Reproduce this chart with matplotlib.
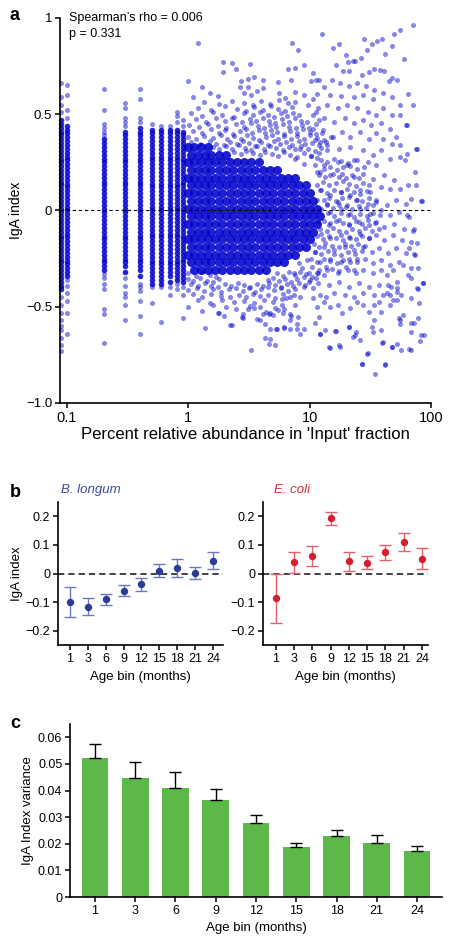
import matplotlib
matplotlib.use("Agg")
import matplotlib.pyplot as plt
from matplotlib.ticker import NullLocator, FixedLocator

plt.rcParams['font.family'] = ['Liberation Sans', 'DejaVu Sans']
plt.rcParams['axes.unicode_minus'] = True

# ---------------- Panel a data ----------------
# discrete low-abundance columns (percent) with their y values (IgA index, hundredths)
col_x = [0.09, 0.1, 0.2, 0.3, 0.4, 0.5, 0.6, 0.7, 0.8, 0.9]
col_dense = [
    "47 45 43 41 39 37 35 33 31 29 27 25 23 21 19 17 15 13 11 9 7 5 3 1 -1 -3 -5 -7 -9 -11 -13 -15 -17 -19 -21 -23 -25 -27 -29 -31 -33 -35 -37 -39 -41",
    "44 42 40 38 36 34 32 30 28 26 24 22 20 18 16 14 12 10 8 6 4 2 0 -2 -4 -6 -8 -10 -12 -14 -16 -18 -20 -22 -24 -26 -28 -30 -32 -34",
    "37 35 33 31 29 27 25 23 21 19 17 15 13 11 9 7 5 3 1 -1 -3 -5 -7 -9 -11 -13 -15 -17 -19 -21 -23 -25 -27 -29 -31",
    "41 39 37 35 33 31 29 27 25 23 21 19 17 15 13 11 9 7 5 3 1 -1 -3 -5 -7 -9 -11 -13 -15 -17 -19 -21 -23 -25 -27 -29 -32",
    "43 41 39 37 35 33 31 29 27 25 23 21 19 17 15 13 11 9 7 5 3 1 -1 -3 -5 -7 -9 -11 -13 -15 -17 -19 -21 -23 -25 -27 -29 -31 -34",
    "42 40 38 36 34 32 30 28 26 24 22 20 18 16 14 12 10 8 6 4 2 0 -2 -4 -6 -8 -10 -12 -14 -16 -18 -20 -22 -24 -26 -28 -30 -32 -34 -36 -38",
    "42 40 38 36 34 32 30 28 26 24 22 20 18 16 14 12 10 8 6 4 2 0 -2 -4 -6 -8 -10 -12 -14 -16 -18 -20 -22 -24 -26 -28 -30 -32 -34 -36 -38",
    "42 40 38 36 34 32 30 28 26 24 22 20 18 16 14 12 10 8 6 4 2 0 -2 -4 -6 -8 -10 -12 -14 -16 -18 -20 -22 -24 -26 -28 -30 -32 -34 -37",
    "42 40 38 36 34 32 30 28 26 24 22 20 18 16 14 12 10 8 6 4 2 0 -2 -4 -6 -8 -10 -12 -14 -16 -18 -20 -22 -24 -26 -28 -30 -32 -34 -36",
    "41 39 37 35 33 31 29 27 25 23 21 19 17 15 13 11 9 7 5 3 1 -1 -3 -5 -7 -9 -11 -13 -15 -17 -19 -21 -23 -25 -27 -29 -31 -33 -35 -37",
]
col_sparse = [
    "66 59 55 51 -45 -49 -53 -57 -60 -62 -66 -70 -73",
    "65 60 52 48 -36 -39 -43 -47 -53 -64",
    "63 52 45 43 41 39 -33 -35 -38 -41 -51 -54 -69",
    "56 53 48 46 44 -35 -39 -43 -45 -49 -57",
    "63 58 48 46 -38 -40 -42 -47 -55 -64",
    "45 -40 -48",
    "44 -40 -58",
    "44 -40 -44",
    "51 49 46 -38 -41",
    "47 44 -40 -44 -56",
]

# dense core of the cloud (abundance >= 1 %), one row per IgA level
core_rows = [
    (0.33, [1.0, 1.12, 1.27, 1.45]),
    (0.29, [1.05, 1.2, 1.36, 1.55, 1.78, 2.05]),
    (0.25, [1.0, 1.12, 1.27, 1.45, 1.65, 1.9, 2.2, 2.5, 2.9, 3.3, 3.8]),
    (0.21, [1.05, 1.2, 1.36, 1.55, 1.78, 2.05, 2.35, 2.7, 3.1, 3.55, 4.1, 4.7, 5.4]),
    (0.17, [1.0, 1.12, 1.27, 1.45, 1.65, 1.9, 2.2, 2.5, 2.9, 3.3, 3.8, 4.4, 5.0, 5.8, 6.6, 7.6]),
    (0.13, [1.05, 1.2, 1.36, 1.55, 1.78, 2.05, 2.35, 2.7, 3.1, 3.55, 4.1, 4.7, 5.4, 6.2, 7.1, 8.2, 9.4]),
    (0.09, [1.0, 1.12, 1.27, 1.45, 1.65, 1.9, 2.2, 2.5, 2.9, 3.3, 3.8, 4.4, 5.0, 5.8, 6.6, 7.6, 8.8, 10.0]),
    (0.05, [1.05, 1.2, 1.36, 1.55, 1.78, 2.05, 2.35, 2.7, 3.1, 3.55, 4.1, 4.7, 5.4, 6.2, 7.1, 8.2, 9.4, 10.7]),
    (0.01, [1.0, 1.12, 1.27, 1.45, 1.65, 1.9, 2.2, 2.5, 2.9, 3.3, 3.8, 4.4, 5.0, 5.8, 6.6, 7.6, 8.8, 10.0, 11.5]),
    (-0.03, [1.05, 1.2, 1.36, 1.55, 1.78, 2.05, 2.35, 2.7, 3.1, 3.55, 4.1, 4.7, 5.4, 6.2, 7.1, 8.2, 9.4, 10.7, 12.2]),
    (-0.07, [1.0, 1.12, 1.27, 1.45, 1.65, 1.9, 2.2, 2.5, 2.9, 3.3, 3.8, 4.4, 5.0, 5.8, 6.6, 7.6, 8.8, 10.0, 11.5]),
    (-0.11, [1.05, 1.2, 1.36, 1.55, 1.78, 2.05, 2.35, 2.7, 3.1, 3.55, 4.1, 4.7, 5.4, 6.2, 7.1, 8.2, 9.4, 10.7]),
    (-0.15, [1.0, 1.12, 1.27, 1.45, 1.65, 1.9, 2.2, 2.5, 2.9, 3.3, 3.8, 4.4, 5.0, 5.8, 6.6, 7.6, 8.8, 10.0]),
    (-0.19, [1.05, 1.2, 1.36, 1.55, 1.78, 2.05, 2.35, 2.7, 3.1, 3.55, 4.1, 4.7, 5.4, 6.2, 7.1, 8.2, 9.4]),
    (-0.23, [1.0, 1.12, 1.27, 1.45, 1.65, 1.9, 2.2, 2.5, 2.9, 3.3, 3.8, 4.4, 5.0, 5.8, 6.6, 7.6]),
    (-0.27, [1.05, 1.2, 1.36, 1.55, 1.78, 2.05, 2.35, 2.7, 3.1, 3.55, 4.1, 4.7, 5.4, 6.2]),
    (-0.31, [1.12, 1.27, 1.45, 1.65, 1.9, 2.2, 2.5, 2.9, 3.3, 3.8, 4.4]),
]

# medium-density halo above the core, "abundance:IgA" pairs
halo_upper = """
2.4:0.305 2.7:0.292 3.0:0.31 3.4:0.298 3.9:0.288 4.3:0.306 4.9:0.295 5.5:0.284 6.1:0.302 6.9:0.29 7.8:0.279 8.9:0.297 10.2:0.283 11.6:0.272
1.6:0.331 1.8:0.318 2.05:0.336 2.3:0.322 2.6:0.339 2.95:0.326 3.3:0.314 3.7:0.333 4.2:0.319 4.7:0.336 5.3:0.323 6.0:0.312 6.7:0.33 7.5:0.317 8.5:0.334 9.6:0.32 11:0.309 12.5:0.327 14:0.314
1.05:0.356 1.25:0.343 1.5:0.361 1.7:0.347 1.95:0.338 2.2:0.357 2.5:0.344 2.8:0.362 3.15:0.349 3.55:0.337 4.0:0.354 4.5:0.342 5.1:0.36 5.7:0.346 6.4:0.355 7.2:0.341 8.1:0.359 9.2:0.345 10.5:0.353 12:0.34 13.6:0.358
1.0:0.384 1.15:0.371 1.35:0.389 1.6:0.376 1.85:0.392 2.1:0.369 2.4:0.386 2.7:0.373 3.05:0.394 3.4:0.378 3.85:0.366 4.35:0.383 4.9:0.391 5.5:0.372 6.2:0.387 7.0:0.369 7.9:0.385 8.9:0.374 10.1:0.39 11.4:0.376 13:0.368 15:0.384
1.1:0.414 1.3:0.402 1.55:0.421 1.8:0.405 2.0:0.418 2.35:0.399 2.65:0.412 3.0:0.424 3.35:0.404 3.8:0.417 4.3:0.401 4.8:0.419 5.4:0.407 6.1:0.396 6.9:0.415 7.8:0.403 8.8:0.421 10:0.408 11.3:0.398 12.8:0.416
1.02:0.446 1.22:0.432 1.45:0.451 1.75:0.437 2.05:0.428 2.45:0.447 2.9:0.434 3.3:0.452 3.75:0.438 4.2:0.427 4.75:0.445 5.3:0.433 6.0:0.449 6.8:0.436 7.7:0.426 8.7:0.444 9.8:0.431 11.2:0.447
1.15:0.474 1.4:0.461 1.7:0.479 2.0:0.465 2.3:0.482 2.75:0.458 3.2:0.476 3.6:0.463 4.1:0.481 4.6:0.467 5.2:0.456 5.9:0.474 6.7:0.462 7.5:0.479 8.5:0.466 9.5:0.458
1.05:0.506 1.3:0.493 1.6:0.511 1.9:0.497 2.4:0.488 2.85:0.507 3.4:0.494 3.9:0.512 4.5:0.498 5.1:0.487 5.8:0.505 6.5:0.492 7.3:0.509 8.2:0.496
1.2:0.534 1.55:0.522 2.0:0.541 2.5:0.526 3.0:0.518 3.5:0.537 4.1:0.524 4.8:0.542 5.5:0.528 6.3:0.519 7.1:0.536
1.35:0.566 1.8:0.553 2.3:0.571 2.9:0.557 3.4:0.548 4.0:0.567 4.7:0.554 5.6:0.572 6.6:0.559
"""

# medium-density halo below the core
halo_lower = """
1.0:-0.326 1.15:-0.338 1.3:-0.321 1.5:-0.334 1.7:-0.343 5.4:-0.327 6.0:-0.339 6.7:-0.322 7.5:-0.335 8.4:-0.318 9.4:-0.331 10.5:-0.344 11.8:-0.325 13.2:-0.337
1.0:-0.356 1.1:-0.368 1.25:-0.352 1.42:-0.364 1.6:-0.371 1.8:-0.355 4.5:-0.362 5.0:-0.35 5.6:-0.366 6.3:-0.354 7.0:-0.369 7.9:-0.357 8.9:-0.348 10:-0.363 11.2:-0.352
1.05:-0.382 1.2:-0.394 1.38:-0.378 1.55:-0.39 1.75:-0.397 2.0:-0.381 2.25:-0.392 2.55:-0.376 2.9:-0.388 3.25:-0.399 3.65:-0.383 4.1:-0.391 4.6:-0.377 5.2:-0.389 5.8:-0.396 6.5:-0.38 7.3:-0.392 8.2:-0.379 9.2:-0.387
1.0:-0.414 1.18:-0.402 1.35:-0.419 1.6:-0.406 1.85:-0.423 2.15:-0.41 2.45:-0.401 2.8:-0.417 3.15:-0.405 3.55:-0.421 4.0:-0.408 4.5:-0.398 5.1:-0.415 5.8:-0.404 6.6:-0.42 7.5:-0.409
1.1:-0.436 1.3:-0.448 1.55:-0.432 1.85:-0.445 2.2:-0.451 2.6:-0.437 3.0:-0.449 3.4:-0.433 3.9:-0.446 4.5:-0.438 5.2:-0.452 6.0:-0.435 6.9:-0.447
1.2:-0.466 1.5:-0.478 1.9:-0.463 2.4:-0.476 2.9:-0.468 3.5:-0.481 4.2:-0.465 5.0:-0.474 5.9:-0.462
"""

# medium-density fan between 10 % and 40 %
fan_pts = """
12.5:0.264 14:0.251 16:0.268 18:0.255 20.5:0.247 23:0.262
13:0.214 14.8:0.227 16.8:0.212 19:0.225 21.5:0.231 24.5:0.216 28:0.228
12:0.186 13.5:0.173 15.5:0.189 17.5:0.176 19.8:0.168 22.5:0.184 25.5:0.171
11.5:0.134 12.8:0.147 14.5:0.131 16.5:0.144 18.7:0.152 21:0.137 24:0.128 27.5:0.145 31:0.133
12.2:0.104 13.8:0.091 15.8:0.108 18:0.095 20.3:0.112 23:0.098 26:0.087 29.5:0.103
13:0.053 14.5:0.066 16.4:0.051 18.6:0.064 21:0.071 24:0.056 27:0.048 31:0.063 35:0.054
13.8:0.026 15.5:0.013 17.5:0.029 19.8:0.016 22.5:0.008 25.5:0.024 29:0.011 33:0.027
14.2:-0.014 16:-0.027 18:-0.011 20.5:-0.024 23:-0.032 26:-0.016 29.5:-0.028 33.5:-0.013 38:-0.025
13.2:-0.054 14.8:-0.067 16.5:-0.052 18.8:-0.064 21.2:-0.071 24:-0.055 27:-0.068 30.5:-0.051 34.5:-0.063
12.2:-0.094 13.8:-0.107 15.5:-0.091 17.5:-0.104 19.8:-0.112 22.3:-0.096 25.3:-0.108 28.5:-0.093 32.5:-0.105 37:-0.097
11.5:-0.134 12.9:-0.147 14.5:-0.132 16.5:-0.144 18.7:-0.152 21:-0.136 24:-0.148 27:-0.131 31:-0.143
10.8:-0.174 12:-0.188 13.5:-0.171 15.3:-0.185 17.3:-0.192 19.5:-0.176 22:-0.187 25:-0.172 28.5:-0.184
11:-0.214 12.5:-0.227 14.2:-0.212 16:-0.225 18:-0.232 20.5:-0.216 23.5:-0.228 27:-0.211
10.2:-0.254 11.5:-0.267 13:-0.251 14.8:-0.264 16.8:-0.272 19:-0.256 21.5:-0.268 24.5:-0.253
10.5:-0.294 12:-0.307 13.6:-0.291 15.4:-0.304 17.5:-0.312 20:-0.296 23:-0.308
"""

# individual scattered points
upper_pts = [
    (1.2, 0.87), (12.6, 0.915), (70.5, 0.966), (56, 0.937), (50, 0.915), (28, 0.893), (32.4, 0.867),
    (35.6, 0.88), (39.5, 0.893), (48, 0.855), (7.2, 0.87), (8.0, 0.834), (15.7, 0.846), (17.3, 0.867),
    (29.9, 0.833), (41.8, 0.815), (60, 0.785), (19.8, 0.81), (20.8, 0.772), (22.6, 0.777), (23.5, 0.777),
    (26.5, 0.79), (1.92, 0.77), (2.27, 0.768), (1.92, 0.717), (2.45, 0.735), (3.2, 0.76), (6.6, 0.735),
    (7.6, 0.742), (9.0, 0.755), (10.6, 0.712), (11.9, 0.68), (16.5, 0.755), (18.8, 0.724), (21.2, 0.724),
    (27, 0.703), (31, 0.717), (34, 0.735), (38, 0.729), (41, 0.726), (52, 0.677), (48, 0.686), (45, 0.672),
    (65, 0.604), (70.5, 0.546), (56, 0.546), (47.5, 0.59), (40, 0.612), (34, 0.628), (29, 0.646),
    (24.7, 0.663), (21.2, 0.646), (17.8, 0.663), (15.3, 0.677), (13.2, 0.642), (11.5, 0.607), (14.6, 0.602),
    (18, 0.595), (23, 0.59), (27.5, 0.6), (33.5, 0.58),
    (1.0, 0.672), (1.3, 0.64), (1.5, 0.61), (2.7, 0.672), (3.1, 0.685), (3.5, 0.693), (2.65, 0.64),
    (3.1, 0.64), (2.85, 0.61), (3.3, 0.6), (4.1, 0.68), (5.5, 0.665), (10.3, 0.672), (11.3, 0.68),
    (7.0, 0.68), (3.7, 0.62), (4.1, 0.636), (5.6, 0.61), (7.6, 0.616), (9.0, 0.6), (10.6, 0.58),
    (1.1, 0.59), (1.77, 0.595), (6.3, 0.586), (7.6, 0.565), (9.7, 0.547), (11.3, 0.512),
    (12, 0.47), (10.6, 0.425), (12.2, 0.356), (8.4, 0.32), (10.3, 0.285), (11.9, 0.3), (7.6, 0.27),
    (8.9, 0.244), (11, 0.235), (12.2, 0.2),
]
right_pts = [
    (56, 0.495), (47.5, 0.495), (64, 0.443), (40, 0.53), (35, 0.495), (30, 0.512), (24.7, 0.53),
    (20.4, 0.546), (17, 0.53), (14, 0.546), (11.8, 0.53), (10.6, 0.495), (13, 0.478), (16, 0.46),
    (19.5, 0.478), (23, 0.452), (27.5, 0.47), (32, 0.443), (38.5, 0.452), (46, 0.425), (51, 0.382),
    (47.5, 0.348), (55, 0.339), (64, 0.295), (75, 0.322), (40.5, 0.373), (35, 0.4), (30.8, 0.373),
    (26.2, 0.408), (21.5, 0.382), (18.3, 0.408), (15.6, 0.382), (12.6, 0.4), (11, 0.365), (14, 0.339),
    (17.5, 0.322), (21.5, 0.33), (27.5, 0.313), (33.5, 0.287), (38.5, 0.313), (46, 0.27), (55, 0.278),
    (35, 0.235), (30.5, 0.252), (24.7, 0.26), (20.4, 0.235), (17, 0.252), (13, 0.235), (11.5, 0.2),
    (14.8, 0.183), (18.3, 0.192), (23, 0.174), (27.5, 0.192), (33.5, 0.166), (41, 0.183), (50, 0.157),
    (56, 0.114), (46, 0.114), (38.5, 0.122), (31.5, 0.097), (26.2, 0.105), (21.5, 0.079), (18, 0.097),
    (14.8, 0.079), (12.4, 0.105), (75, 0.131), (83, 0.048), (62.5, 0.443), (76, 0.322), (61.5, 0.261),
    (74, 0.2), (65, 0.132), (69, 0.062), (62, 0.036), (51, 0.053), (43, 0.027), (35, 0.045), (30, 0.036),
    (24.7, 0.053), (20.4, 0.027), (17, 0.045), (14, 0.036), (11.5, 0.053), (66, -0.033), (54, -0.007),
    (46, -0.024), (38.5, 0.002), (31.5, -0.016), (26.2, 0.01), (21.5, -0.016), (18, 0.01), (14.8, -0.007),
    (12.4, 0.01), (60, -0.094), (50, -0.068), (41, -0.085), (35, -0.059), (31, -0.076), (25.5, -0.059),
    (21, -0.076), (17.5, -0.05), (14.3, -0.076), (11.7, -0.059), (58, -0.154), (48.5, -0.128),
    (41, -0.154), (35, -0.128), (31, -0.145), (26.2, -0.12), (21.5, -0.145), (18, -0.128), (14.8, -0.145),
    (12.4, -0.12), (62, -0.223), (51, -0.197), (44, -0.223), (37.5, -0.197), (32.5, -0.215),
    (27.5, -0.189), (23, -0.206), (19.5, -0.189), (16, -0.206), (13, -0.189), (11, -0.215), (54, -0.267),
    (46, -0.284), (39, -0.258), (33.5, -0.275), (28.5, -0.25), (24.7, -0.267), (21, -0.25), (18, -0.267),
    (14.8, -0.25), (12.2, -0.267), (48.5, -0.31), (43, -0.336), (38.5, -0.31), (33, -0.327), (27.5, -0.31),
    (24, -0.327), (20.5, -0.31), (17, -0.327), (14, -0.31), (11.4, -0.327), (68, -0.35), (47, -0.396),
    (52, -0.422), (52, -0.37), (44, -0.388), (37, -0.388), (31, -0.396), (25.5, -0.379), (21, -0.396),
    (17.5, -0.37), (14.3, -0.388), (11.7, -0.379), (10.6, -0.405), (10.6, -0.457), (12.2, -0.44),
    (13.7, -0.448), (16, -0.43), (19.5, -0.44), (23, -0.448), (27.5, -0.43), (34, -0.44), (43, -0.43),
    (37.5, -0.474), (46, -0.492), (52, -0.466), (46, -0.44), (40.5, -0.44), (34, -0.492), (31, -0.526),
    (27.3, -0.492), (24.7, -0.474), (21.5, -0.509), (18.3, -0.535), (17, -0.492), (14.8, -0.5),
    (13, -0.474), (11.4, -0.5), (12, -0.552), (39, -0.526), (33.6, -0.57), (32.5, -0.604),
]
outlier_pts = [
    (63, -0.024), (72, -0.094), (68, -0.163), (74, -0.232), (59, -0.284), (65, -0.336), (76, -0.405),
    (57, -0.44), (68, -0.457), (52, -0.405), (49, -0.466), (86, -0.379), (78.5, -0.561), (83, -0.648),
    (81, -0.679), (72, -0.587), (68, -0.63), (56, -0.57), (59, -0.544), (68, -0.726), (57, -0.726),
    (47.3, -0.708), (40.5, -0.682), (42, -0.803), (34.5, -0.847), (26.8, -0.8), (29.5, -0.743),
    (26, -0.674), (22.9, -0.656), (20.9, -0.604), (33.5, -0.63), (39, -0.622), (52, -0.691),
    (14.3, -0.708), (17.3, -0.7), (16.2, -0.625), (13.5, -0.622), (12.2, -0.639), (11.1, -0.587),
    (8.9, -0.613), (7.8, -0.616), (6.9, -0.613), (6.1, -0.609), (5.4, -0.613), (4.7, -0.665),
    (5.2, -0.7), (3.3, -0.726), (3.9, -0.57), (5.0, -0.544), (6.0, -0.53), (2.2, -0.596), (1.38, -0.608),
    (1.78, -0.535), (2.77, -0.552), (85, 0.048), (71, -0.106), (76, -0.168), (65.5, -0.194),
    (73, -0.228), (78, -0.3), (69, -0.3), (85.5, -0.379), (78, -0.409), (80, -0.483), (69, -0.582),
    (87, -0.648), (55, -0.592), (54.5, -0.561), (66, -0.722), (48, -0.708), (39.5, -0.686),
    (41.5, -0.8), (30, -0.738), (27, -0.798), (23.5, -0.648), (24, -0.63), (21, -0.604), (17.8, -0.708),
    (14.6, -0.712), (16.5, -0.625), (12.2, -0.642),
]
lower_pts = [
    (2.3, -0.596), (2.82, -0.556), (3.65, -0.566), (4.25, -0.663), (4.6, -0.696), (4.3, -0.59),
    (4.75, -0.613), (5.25, -0.613), (6.2, -0.607), (6.85, -0.57), (7.0, -0.547), (7.8, -0.59),
    (8.3, -0.642), (4.15, -0.538), (4.65, -0.538), (1.0, -0.5), (1.3, -0.52),
    (1.6, -0.491), (1.75, -0.532), (1.95, -0.547), (2.05, -0.5),
    (2.45, -0.51), (2.8, -0.538), (3.1, -0.51), (3.2, -0.494), (3.5, -0.508),
    (3.9, -0.502), (4.4, -0.526), (4.75, -0.535), (5.2, -0.505),
    (5.5, -0.517), (5.9, -0.491), (6.2, -0.51), (6.9, -0.536), (7.5, -0.491), (8.0, -0.552),
    (6.4, -0.457), (7.4, -0.44), (8.3, -0.448), (8.9, -0.396), (9.8, -0.37),
    (7.4, -0.327), (8.7, -0.3), (9.9, -0.327), (8.2, -0.275), (9.5, -0.258),
]

# ---------------- Panel b data ----------------
age_bins = ["1", "3", "6", "9", "12", "15", "18", "21", "24"]
bl_mean = [-0.101, -0.116, -0.090, -0.060, -0.038, 0.010, 0.018, 0.002, 0.044]
bl_low = [-0.153, -0.145, -0.111, -0.079, -0.061, -0.013, -0.013, -0.018, 0.014]
bl_high = [-0.047, -0.086, -0.070, -0.040, -0.016, 0.033, 0.051, 0.024, 0.074]
ec_mean = [-0.085, 0.039, 0.060, 0.194, 0.043, 0.038, 0.075, 0.109, 0.052]
ec_low = [-0.174, 0.002, 0.025, 0.169, 0.010, 0.014, 0.048, 0.077, 0.014]
ec_high = [0.0, 0.076, 0.095, 0.216, 0.075, 0.062, 0.101, 0.143, 0.090]

# ---------------- Panel c data ----------------
var_mean = [0.0523, 0.0448, 0.0410, 0.0364, 0.0279, 0.0186, 0.0228, 0.0202, 0.0171]
var_upper = [0.0574, 0.0506, 0.0471, 0.0406, 0.0308, 0.0204, 0.0253, 0.0234, 0.0191]


def parse_pairs(text):
    xs, ys = [], []
    for tok in text.split():
        a, b = tok.split(":")
        xs.append(float(a))
        ys.append(float(b))
    return xs, ys


W, H = 451, 944
fig = plt.figure(figsize=(W / 100, H / 100), dpi=100)


def box(l, t, r, b):
    return [l / W, 1 - b / H, (r - l) / W, (b - t) / H]


def style(ax, fs):
    for s in ("top", "right"):
        ax.spines[s].set_visible(False)
    for s in ("left", "bottom"):
        ax.spines[s].set_linewidth(1.2)
    ax.tick_params(direction="out", length=3.5, width=1.1, labelsize=fs, pad=2)


# ---------------- Panel a ----------------
PT = "#0000cc"
axa = fig.add_axes(box(60, 18, 431, 403))
style(axa, 9.5)
axa.tick_params(axis="x", labelsize=10.5)
axa.set_xscale("log")
axa.set_xlim(0.0875, 100)
axa.set_ylim(-1, 1)

for cx, dense, sparse in zip(col_x, col_dense, col_sparse):
    dy = [int(v) / 100 for v in dense.split()]
    sy = [int(v) / 100 for v in sparse.split()]
    axa.scatter([cx] * len(dy), dy, s=16, color=PT, alpha=0.85, linewidths=0, clip_on=False, zorder=2)
    axa.scatter([cx] * len(sy), sy, s=13, color=PT, alpha=0.47, linewidths=0, clip_on=False, zorder=2)

for ry, xs in core_rows:
    axa.scatter(xs, [ry] * len(xs), s=42, color=PT, alpha=0.88, linewidths=0, zorder=2)

for text in (halo_upper, halo_lower, fan_pts):
    hx, hy = parse_pairs(text)
    axa.scatter(hx, hy, s=13, color=PT, alpha=0.47, linewidths=0, zorder=2)

for group in (upper_pts, right_pts, outlier_pts, lower_pts):
    gx = [p[0] for p in group]
    gy = [p[1] for p in group]
    axa.scatter(gx, gy, s=13, color=PT, alpha=0.47, linewidths=0, zorder=2)

axa.axhline(0, color="black", lw=0.8, dashes=(3, 2.5), zorder=3)
axa.xaxis.set_major_locator(FixedLocator([0.1, 1, 10, 100]))
axa.xaxis.set_minor_locator(NullLocator())
axa.set_xticklabels(["0.1", "1", "10", "100"])
axa.set_yticks([-1, -0.5, 0, 0.5, 1])
axa.set_yticklabels(["\u22121.0", "\u22120.5", "0", "0.5", "1"])
axa.set_xlabel("Percent relative abundance in 'Input' fraction", fontsize=12)
axa.set_ylabel("IgA index", fontsize=10)
axa.xaxis.set_label_coords(0.5, -0.063)
axa.yaxis.set_label_coords(-0.1, 0.5)
axa.text(69 / W, 1 - 18 / H, "Spearman\u2019s rho = 0.006", transform=fig.transFigure,
         fontsize=9, va="center", ha="left")
axa.text(69 / W, 1 - 34 / H, "p = 0.331", transform=fig.transFigure,
         fontsize=9, va="center", ha="left")

# ---------------- Panel b ----------------
pos = list(range(len(age_bins)))
specs = [
    (box(58, 502, 223, 645), (-0.67, 8.56), bl_mean, bl_low, bl_high, "#2b3b98", "#6a78c2",
     "B. longum", "#3a4aa2", 61),
    (box(263, 502, 428, 645), (-0.71, 8.33), ec_mean, ec_low, ec_high, "#d2202f", "#e0606b",
     "E. coli", "#d42a38", 274),
]
for k, (rect, xl, mn, lo, hi, pc, ecol, title, tc, tx) in enumerate(specs):
    ax = fig.add_axes(rect)
    style(ax, 9)
    ax.set_xlim(*xl)
    ax.set_ylim(-0.25, 0.25)
    ax.axhline(0, color="#333333", lw=1.3, dashes=(3.5, 2.2), zorder=1)
    yerr = [[m - l for m, l in zip(mn, lo)], [h - m for m, h in zip(mn, hi)]]
    ax.errorbar(pos, mn, yerr=yerr, fmt="o", color=pc, ms=4.3, ecolor=ecol,
                elinewidth=1.0, capsize=4.2, capthick=1.0, zorder=3)
    ax.set_xticks(pos)
    ax.set_xticklabels(age_bins)
    ax.set_yticks([-0.2, -0.1, 0, 0.1, 0.2])
    ax.set_yticklabels(["\u22120.2", "\u22120.1", "0", "0.1", "0.2"])
    ax.set_xlabel("Age bin (months)", fontsize=9.5)
    ax.xaxis.set_label_coords(0.5, -0.185)
    if k == 0:
        ax.set_ylabel("IgA index", fontsize=9.5)
        ax.yaxis.set_label_coords(-0.215, 0.5)
    fig.text(tx / W, 1 - 490 / H, title, color=tc, fontsize=9.5, style="italic",
             ha="left", va="center")

# ---------------- Panel c ----------------
axc = fig.add_axes(box(70, 724, 442, 897))
style(axc, 9)
axc.set_xlim(-0.62, 8.62)
axc.set_ylim(0, 0.065)
err_up = [u - m for m, u in zip(var_mean, var_upper)]
axc.bar(pos, var_mean, width=0.66, color="#5cb848", edgecolor="none", zorder=2)
axc.errorbar(pos, var_mean, yerr=[[0] * len(pos), err_up], fmt="none", ecolor="black",
             elinewidth=1.0, capsize=4, capthick=1.0, zorder=3)
axc.set_xticks(pos)
axc.set_xticklabels(age_bins)
axc.set_yticks([0, 0.01, 0.02, 0.03, 0.04, 0.05, 0.06])
axc.set_yticklabels(["0", "0.01", "0.02", "0.03", "0.04", "0.05", "0.06"])
axc.set_xlabel("Age bin (months)", fontsize=9.5)
axc.set_ylabel("IgA Index variance", fontsize=9.5)
axc.xaxis.set_label_coords(0.5, -0.145)
axc.yaxis.set_label_coords(-0.097, 0.5)

# panel letters
for letter, (px, py) in {"a": (14, 15), "b": (15, 492), "c": (15, 723)}.items():
    fig.text(px / W, 1 - py / H, letter, fontsize=13, fontweight="bold", ha="center", va="center")

fig.savefig("out.png", dpi=100)
